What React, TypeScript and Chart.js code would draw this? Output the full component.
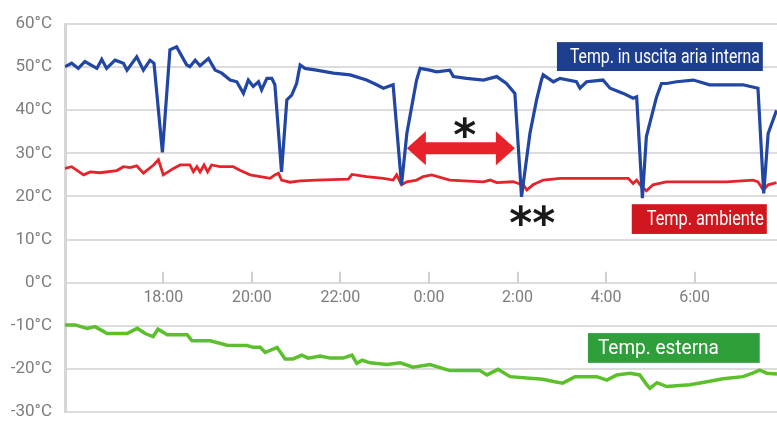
import React, { useEffect, useRef } from "react";
import { Chart, registerables } from "chart.js";

Chart.register(...registerables);

// Time in hours relative to midnight (18:00 = -6, 0:00 = 0, 6:00 = 6)
const TICK_HOURS = [-6, -4, -2, 0, 2, 4, 6];
const TICK_LABELS = ["18:00", "20:00", "22:00", "0:00", "2:00", "4:00", "6:00"];
const Y_TICKS = [-30, -20, -10, 0, 10, 20, 30, 40, 50, 60];

const BLUE_HOURS = [
  -8.22, -8.07, -7.92, -7.77, -7.5, -7.39, -7.28, -7.09, -6.9, -6.82, -6.6, -6.45, -6.3, -6.21,
  -6.02, -5.85, -5.7, -5.47, -5.4, -5.28, -5.17, -4.98, -4.83, -4.68, -4.49, -4.34, -4.19, -4.08,
  -3.97, -3.85, -3.78, -3.66, -3.55, -3.48, -3.33, -3.21, -3.1, -2.99, -2.91, -2.8, -2.54, -2.16,
  -1.78, -1.41, -1.18, -1.03, -0.81, -0.62, -0.5, -0.35, -0.28, -0.2, 0.02, 0.17, 0.47, 0.55,
  0.85, 1.23, 1.53, 1.75, 1.94, 2.09, 2.28, 2.43, 2.54, 2.58, 2.81, 2.96, 3.33, 3.41, 3.56, 3.93,
  4.09, 4.39, 4.61, 4.69, 4.82, 4.91, 5.14, 5.25, 5.37, 5.59, 5.97, 6.34, 6.72, 7.09, 7.43, 7.56,
  7.66, 7.85,
];
const BLUE_TEMPS = [
  50.1, 50.9, 49.7, 51.3, 49.7, 51.8, 49.7, 51.6, 50.9, 49.3, 52.4, 49.3, 51.6, 50.9,
  30.2, 54.0, 54.7, 50.5, 50.1, 51.6, 50.3, 52.0, 49.3, 48.6, 47.0, 46.6, 43.9, 47.0,
  45.5, 46.6, 44.7, 47.4, 47.4, 45.9, 25.7, 42.4, 43.5, 46.2, 50.5, 49.7, 49.3, 48.6,
  48.2, 47.0, 45.9, 45.1, 45.9, 22.7, 34.6, 43.1, 47.0, 49.7, 49.3, 48.9, 49.3, 47.8,
  47.4, 47.0, 47.8, 46.2, 43.9, 19.9, 34.6, 42.4, 47.0, 48.2, 46.6, 47.4, 46.6, 45.1, 46.6, 47.0,
  45.1, 43.9, 42.8, 43.1, 19.6, 33.9, 43.1, 46.2, 46.2, 46.6, 47.0, 45.9, 45.9, 45.9, 45.1, 20.7,
  34.6, 40.0,
];

const RED_HOURS = [
  -8.22, -8.07, -7.8, -7.65, -7.43, -7.05, -6.9, -6.75, -6.6, -6.45, -6.22, -6.11, -6.0, -5.77,
  -5.62, -5.4, -5.32, -5.24, -5.17, -5.08, -5.0, -4.91, -4.72, -4.42, -4.27, -4.04, -3.81, -3.59,
  -3.48, -3.4, -3.33, -3.14, -2.91, -2.54, -1.82, -1.74, -1.41, -1.03, -0.81, -0.73, -0.62, -0.5,
  -0.28, -0.13, 0.06, 0.47, 1.23, 1.38, 1.53, 1.9, 2.02, 2.13, 2.21, 2.35, 2.58, 2.96, 3.71, 4.5,
  4.61, 4.69, 4.8, 4.91, 5.06, 5.36, 5.97, 6.72, 7.32, 7.43, 7.55, 7.66, 7.85,
];
const RED_TEMPS = [
  26.5, 26.9, 25.0, 25.7, 25.5, 26.0, 26.9, 26.7, 27.1, 25.4, 27.3, 28.5, 25.0, 26.5,
  27.3, 27.3, 25.7, 26.9, 25.7, 27.3, 25.7, 27.3, 26.9, 26.9, 26.1, 25.0, 24.6, 24.2,
  25.0, 25.4, 23.8, 23.3, 23.6, 23.8, 24.0, 25.1, 24.6, 24.2, 23.8, 25.0, 22.7, 23.4,
  23.8, 24.6, 25.0, 23.8, 23.4, 23.8, 23.2, 23.4, 23.0, 22.7, 21.5, 22.7, 23.8, 24.2, 24.2, 24.2,
  23.0, 23.8, 22.3, 21.3, 22.7, 23.4, 23.4, 23.4, 23.8, 23.4, 21.5, 22.7, 23.2,
];

const GREEN_HOURS = [
  -8.22, -7.99, -7.72, -7.54, -7.27, -6.82, -6.59, -6.41, -6.23, -6.12, -5.91, -5.46, -5.35,
  -4.94, -4.56, -4.11, -3.97, -3.81, -3.7, -3.43, -3.25, -3.07, -2.87, -2.73, -2.46, -2.23,
  -1.94, -1.74, -1.63, -1.51, -1.33, -0.95, -0.65, -0.36, 0.02, 0.47, 1.15, 1.31, 1.56, 1.83,
  2.57, 2.84, 3.02, 3.3, 3.79, 4.02, 4.24, 4.54, 4.76, 4.92, 4.99, 5.15, 5.37, 5.89, 6.28, 6.64,
  7.09, 7.31, 7.47, 7.63, 7.86,
];
const GREEN_TEMPS = [
  -9.8, -9.8, -10.6, -10.2, -11.8, -11.8, -10.6, -11.8, -12.5, -10.8, -12.1, -12.1, -13.5,
  -13.5, -14.5, -14.6, -15.0, -15.0, -16.2, -15.0, -17.7, -17.7, -16.8, -17.5, -17.0, -17.5,
  -17.5, -16.8, -18.7, -18.0, -18.6, -19.0, -18.6, -19.6, -19.0, -20.4, -20.4, -21.4, -20.1, -21.8,
  -22.4, -23.0, -23.3, -21.8, -21.8, -22.6, -21.4, -21.0, -21.4, -23.7, -24.5, -23.2, -24.1, -23.7,
  -23.0, -22.3, -21.8, -21.0, -20.3, -21.0, -21.2,
];

const SERIES_LABELS = ["Temp. in uscita aria interna", "Temp. ambiente", "Temp. esterna"];

const LINE_COLORS = ["#2146a3", "#e4232b", "#5cc02c"];
const BOX_COLORS = ["#1e3e8e", "#d0171f", "#2f9f3b"];

const FONT = "Roboto, 'Liberation Sans', sans-serif";

const toPoints = (xs: number[], ys: number[]) => xs.map((x, i) => ({ x, y: ys[i] }));

const annotationPlugin = {
  id: "annotations",
  afterDatasetsDraw(chart: any) {
    const ctx = chart.ctx as CanvasRenderingContext2D;
    const xs = chart.scales.x;
    const ys = chart.scales.y;
    const px = (h: number) => xs.getPixelForValue(h);
    const py = (t: number) => ys.getPixelForValue(t);
    ctx.save();

    // tick marks above the 0°C axis
    ctx.strokeStyle = "#d0d0d0";
    ctx.lineWidth = 2;
    const y0 = py(0);
    TICK_HOURS.forEach((h) => {
      const x = Math.round(px(h));
      ctx.beginPath();
      ctx.moveTo(x, y0);
      ctx.lineTo(x, y0 - 11);
      ctx.stroke();
    });

    // label boxes (hour range, temp range)
    const boxes = [
      { x1: 2.89, x2: 7.54, t1: 55.8, t2: 49.1, size: 20, pad: 13, w: 190 },
      { x1: 4.58, x2: 7.63, t1: 18.2, t2: 11.3, size: 20, pad: 15, w: 117 },
      { x1: 3.59, x2: 7.47, t1: -11.7, t2: -18.6, size: 21, pad: 10, w: 121 },
    ];
    boxes.forEach((b, i) => {
      const l = px(b.x1), r = px(b.x2), t = py(b.t1), bo = py(b.t2);
      ctx.fillStyle = BOX_COLORS[i];
      ctx.fillRect(l, t, r - l, bo - t);
      ctx.fillStyle = "#ffffff";
      ctx.font = `${b.size}px ${FONT}`;
      ctx.textAlign = "left";
      ctx.textBaseline = "middle";
      ctx.fillText(SERIES_LABELS[i], l + b.pad, (t + bo) / 2 + 1, b.w);
    });

    // red double arrow
    const ax1 = px(-0.5), ax2 = px(1.94), ay = py(31.2);
    const headL = 19, headH = 17, shaft = 6;
    ctx.fillStyle = "#e8222a";
    ctx.beginPath();
    ctx.moveTo(ax1, ay);
    ctx.lineTo(ax1 + headL, ay - headH);
    ctx.lineTo(ax1 + headL, ay - shaft);
    ctx.lineTo(ax2 - headL, ay - shaft);
    ctx.lineTo(ax2 - headL, ay - headH);
    ctx.lineTo(ax2, ay);
    ctx.lineTo(ax2 - headL, ay + headH);
    ctx.lineTo(ax2 - headL, ay + shaft);
    ctx.lineTo(ax1 + headL, ay + shaft);
    ctx.lineTo(ax1 + headL, ay + headH);
    ctx.closePath();
    ctx.fill();

    // asterisks
    const drawStar = (text: string, cx: number, cy: number, size: number) => {
      ctx.font = `bold ${size}px 'DejaVu Sans', sans-serif`;
      ctx.textAlign = "center";
      ctx.textBaseline = "alphabetic";
      const m = ctx.measureText(text);
      const base = cy + (m.actualBoundingBoxAscent - m.actualBoundingBoxDescent) / 2;
      ctx.fillStyle = "#1a1a1a";
      ctx.fillText(text, cx, base);
    };
    drawStar("*", px(0.81), py(35.9), 44);
    drawStar("**", px(2.33), py(15.6), 44);

    ctx.restore();
  },
};

export default function App() {
  const canvasRef = useRef<HTMLCanvasElement | null>(null);

  useEffect(() => {
    if (!canvasRef.current) return;
    const chart = new Chart(canvasRef.current, {
      type: "line",
      data: {
        datasets: [
          {
            label: SERIES_LABELS[0],
            data: toPoints(BLUE_HOURS, BLUE_TEMPS),
            borderColor: LINE_COLORS[0],
            borderWidth: 3.2,
            pointRadius: 0,
            tension: 0,
          },
          {
            label: SERIES_LABELS[1],
            data: toPoints(RED_HOURS, RED_TEMPS),
            borderColor: LINE_COLORS[1],
            borderWidth: 2.8,
            pointRadius: 0,
            tension: 0,
          },
          {
            label: SERIES_LABELS[2],
            data: toPoints(GREEN_HOURS, GREEN_TEMPS),
            borderColor: LINE_COLORS[2],
            borderWidth: 3.5,
            pointRadius: 0,
            tension: 0,
          },
        ],
      },
      options: {
        responsive: false,
        animation: false,
        events: [],
        layout: { padding: { top: 24, bottom: 13, left: 0, right: 0 } },
        plugins: { legend: { display: false }, tooltip: { enabled: false } },
        scales: {
          x: {
            type: "linear",
            min: -8.22,
            max: 7.86,
            position: { y: 0 } as any,
            afterBuildTicks: (scale: any) => {
              scale.ticks = TICK_HOURS.map((v) => ({ value: v }));
            },
            afterFit: (scale: any) => {
              scale.height = 0;
            },
            grid: { display: false, drawTicks: false },
            border: { display: false },
            ticks: {
              padding: 6,
              color: "#7d7d7d",
              font: { family: FONT, size: 16 },
              maxRotation: 0,
              callback: (v: any) => TICK_LABELS[TICK_HOURS.indexOf(Number(v))] ?? "",
            },
          },
          y: {
            type: "linear",
            min: -30,
            max: 60,
            afterBuildTicks: (scale: any) => {
              scale.ticks = Y_TICKS.map((v) => ({ value: v }));
            },
            afterFit: (scale: any) => {
              scale.width = 65;
              scale.paddingTop = 0;
              scale.paddingBottom = 0;
            },
            grid: { color: "#dcdcdc", lineWidth: 2, drawTicks: false },
            border: { display: true, color: "#d6d6d6", width: 3 },
            ticks: {
              padding: 13,
              color: "#7d7d7d",
              font: { family: FONT, size: 17 },
              callback: (v: any) => `${v}°C`,
            },
          },
        },
      },
      plugins: [annotationPlugin],
    });
    return () => chart.destroy();
  }, []);

  return (
    <div style={{ position: "fixed", left: 0, top: 0, width: 777, height: 425, background: "#fff" }}>
      <canvas ref={canvasRef} width={777} height={425} />
    </div>
  );
}
